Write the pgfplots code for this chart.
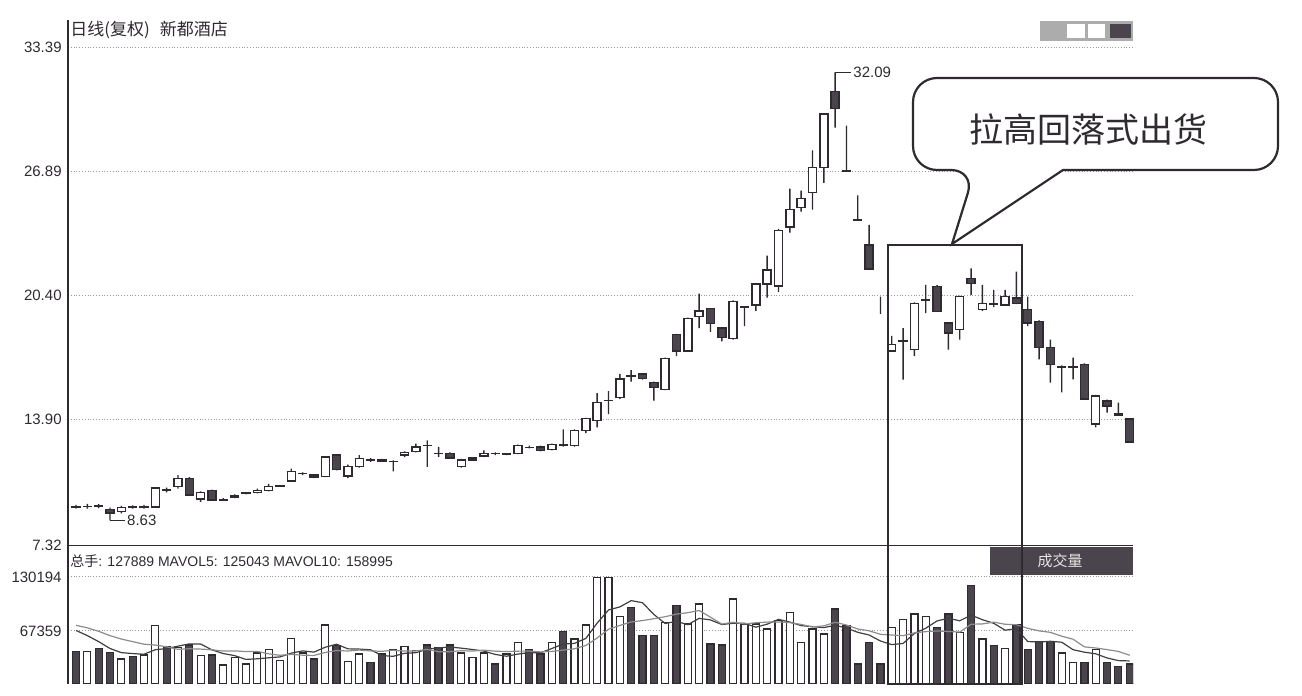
\documentclass[border=0pt]{standalone}
\usepackage{fontspec}
\setmainfont{Liberation Sans}
\newfontfamily\cjk{Noto Sans CJK SC}
\usepackage{pgfplots}
\usepackage{pgfplotstable}
\pgfplotsset{compat=1.18}
\definecolor{ink}{HTML}{2E2A30}
\definecolor{bodyd}{HTML}{4A454D}
\definecolor{gridc}{HTML}{9A9A9A}

\pgfplotstableread{
i o h l c
0 9.33 9.45 9.25 9.36
1 9.36 9.50 9.25 9.35
2 9.36 9.48 9.28 9.38
3 9.20 9.30 8.63 9.02
4 9.10 9.40 9.00 9.30
5 9.30 9.42 9.25 9.34
6 9.32 9.45 9.25 9.34
7 9.33 10.32 9.30 10.32
8 10.20 10.35 10.10 10.25
9 10.40 11.00 10.30 10.84
10 10.84 10.90 9.95 9.97
11 9.75 10.15 9.60 10.10
12 10.20 10.25 9.65 9.71
13 9.71 9.80 9.65 9.72
14 9.85 10.00 9.80 9.95
15 10.05 10.12 10.00 10.06
16 10.10 10.30 10.05 10.20
17 10.20 10.55 10.15 10.40
18 10.44 10.48 10.40 10.45
19 10.70 11.35 10.65 11.18
20 11.09 11.15 11.00 11.10
21 11.00 11.05 10.85 10.90
22 10.92 12.00 10.90 11.96
23 12.05 12.10 11.25 11.30
24 10.95 11.55 10.85 11.45
25 11.45 12.05 11.40 11.87
26 11.79 11.90 11.70 11.80
27 11.80 11.85 11.70 11.72
28 11.72 11.78 11.20 11.73
29 12.05 12.25 11.95 12.20
30 12.25 12.65 12.20 12.48
31 12.55 12.82 11.44 12.57
32 12.13 12.48 11.96 12.14
33 12.13 12.20 11.85 11.90
34 11.44 11.85 11.40 11.79
35 11.80 11.95 11.75 11.90
36 12.00 12.30 11.95 12.15
37 12.13 12.20 12.05 12.14
38 12.10 12.15 12.05 12.11
39 12.13 12.60 12.10 12.56
40 12.45 12.55 12.40 12.46
41 12.48 12.55 12.25 12.30
42 12.35 12.65 12.30 12.60
43 12.55 13.40 12.50 12.60
44 12.56 13.40 12.50 13.34
45 13.34 14.00 13.20 13.97
46 13.86 15.30 13.50 14.80
47 14.90 15.40 14.20 14.92
48 15.06 16.30 15.00 16.04
49 16.20 16.50 15.90 16.21
50 16.30 16.35 16.00 16.05
51 15.85 15.90 14.90 15.60
52 15.50 17.15 15.45 17.10
53 18.36 18.40 17.24 17.50
54 17.50 19.25 17.45 19.20
55 19.30 20.50 18.70 19.60
56 19.72 19.75 18.50 18.95
57 18.70 18.75 18.00 18.20
58 18.15 20.15 18.10 20.10
59 19.80 19.85 18.80 19.82
60 19.90 21.05 19.60 21.00
61 21.00 22.50 20.30 21.75
62 20.90 23.90 20.60 23.80
63 24.00 26.00 23.70 24.90
64 25.00 25.90 24.80 25.50
65 25.80 28.00 24.90 27.10
66 27.10 29.95 26.30 29.90
67 31.10 32.09 29.20 30.20
68 26.95 29.30 26.90 26.90
69 24.40 25.65 24.35 24.35
70 23.05 24.10 21.75 21.80
71 19.50 20.35 19.45 19.50
72 17.50 18.30 17.45 17.84
73 18.00 18.70 16.00 18.05
74 17.58 20.05 17.23 20.00
75 20.15 20.96 19.49 20.20
76 20.87 20.95 19.55 19.58
77 18.97 19.00 17.58 18.45
78 18.62 20.40 18.10 20.35
79 21.31 21.83 20.44 21.05
80 19.66 20.96 19.60 20.00
81 19.95 20.70 19.80 20.00
82 19.92 20.70 19.90 20.35
83 20.27 21.66 19.95 20.00
84 19.66 20.35 18.80 18.97
85 19.06 19.10 17.06 17.67
86 17.67 18.10 15.85 16.80
87 16.66 16.75 15.33 16.70
88 16.70 17.15 16.02 16.66
89 16.80 16.85 14.95 14.98
90 13.68 15.20 13.50 15.15
91 14.89 14.95 14.28 14.63
92 14.20 14.80 14.10 14.15
93 13.94 13.95 12.70 12.73
}\price

\pgfplotstableread{
i v u m5 m10
0 43.3 0 68.0 74.0
1 43.3 1 62.0 71.0
2 47.2 0 55.0 67.0
3 42.6 0 47.0 62.0
4 34.8 1 42.2 58.0
5 37.5 0 41.1 55.0
6 39.4 1 40.3 52.0
7 73.5 1 45.6 51.0
8 49.5 0 46.9 49.0
9 48.4 1 49.7 46.0
10 51.1 0 52.4 46.7
11 38.6 1 52.2 46.3
12 39.4 0 45.4 45.5
13 27.8 1 41.1 44.0
14 36.8 1 38.7 44.2
15 29.0 1 34.3 43.4
16 41.8 1 35.0 43.6
17 45.6 1 36.2 40.8
18 32.8 1 37.2 39.1
19 58.8 1 41.6 40.2
20 41.8 1 44.2 39.2
21 34.8 0 42.8 38.9
22 74.3 1 48.5 42.4
23 50.3 0 52.0 44.6
24 31.6 1 46.6 44.1
25 40.6 1 46.3 45.2
26 30.9 0 45.5 44.2
27 40.6 0 38.8 43.7
28 45.6 1 37.9 44.9
29 49.1 1 41.4 44.0
30 44.4 1 42.1 44.2
31 51.1 0 46.2 45.9
32 48.4 0 47.7 43.3
33 51.1 0 48.8 43.3
34 41.8 1 47.4 44.4
35 36.8 1 45.8 44.0
36 41.8 1 44.0 45.1
37 29.0 0 40.1 43.9
38 40.6 1 38.0 43.4
39 54.2 1 40.5 43.9
40 45.6 0 42.2 44.0
41 40.6 0 42.0 43.0
42 54.2 1 47.0 43.6
43 66.5 0 52.2 45.1
44 58.0 1 53.0 46.7
45 74.3 1 58.7 50.5
46 130.0 1 76.6 59.3
47 130.0 1 91.8 69.4
48 84.5 1 95.4 73.8
49 94.9 0 102.7 77.9
50 61.9 0 100.3 79.5
51 61.9 0 86.6 81.6
52 77.5 1 76.1 84.0
53 96.8 0 78.6 87.0
54 75.5 1 74.7 88.7
55 98.8 1 82.1 91.2
56 52.2 0 80.2 83.4
57 51.1 0 74.9 75.5
58 104.6 1 76.4 77.5
59 75.5 1 76.4 75.6
60 75.5 1 71.8 76.9
61 69.7 1 75.3 77.7
62 79.4 1 80.9 77.9
63 89.1 1 77.8 77.1
64 54.2 1 73.6 75.0
65 69.7 1 72.4 72.1
66 63.9 1 71.3 73.3
67 92.9 0 74.0 77.5
68 73.5 0 70.8 74.3
69 29.0 0 65.8 69.7
70 54.2 0 62.7 67.6
71 29.0 0 55.7 63.5
72 71.7 1 51.5 62.7
73 80.5 1 52.9 61.9
74 87.1 1 64.5 65.2
75 84.5 1 70.6 66.6
76 71.7 0 79.1 67.4
77 87.1 0 82.2 66.8
78 65.8 1 79.2 66.1
79 120.1 0 85.8 75.2
80 58.0 1 80.5 75.6
81 50.3 0 76.3 77.7
82 47.2 1 68.3 75.2
83 74.3 0 70.0 74.6
84 45.6 0 55.1 70.5
85 54.9 0 54.5 67.5
86 54.9 0 55.4 65.8
87 41.8 1 54.3 61.3
88 30.9 1 45.6 57.8
89 30.9 0 42.7 48.9
90 45.6 1 40.8 47.6
91 30.9 0 36.0 45.7
92 26.3 0 32.9 43.6
93 29.0 0 32.5 39.1
}\vol

\pgfplotsset{
  priceax/.style={at={(34pt,75.25pt)}, anchor=south west, scale only axis,
    width=532.5pt, height=262.75pt, xmin=-0.706, xmax=93.29, ymin=7.32, ymax=34.83},
  volax/.style={at={(34pt,6pt)}, anchor=south west, scale only axis,
    width=532.5pt, height=69.25pt, xmin=-0.706, xmax=93.29, ymin=5.688, ymax=166.847},
  ticklab/.style={font=\fontsize{7.5pt}{8pt}\selectfont, inner sep=0pt, xshift=-3pt, text=ink},
}

\begin{document}
\begin{tikzpicture}
\path[use as bounding box] (0,0) rectangle (651pt,348pt);

% price frame, grid and ticks
\begin{axis}[priceax, axis lines*=left, axis line style={ink, line width=0.8pt},
  xtick=\empty, ytick={7.32,13.90,20.40,26.89,33.39},
  yticklabels={7.32,13.90,20.40,26.89,33.39},
  ymajorgrids, grid style={densely dotted, gridc, line width=0.5pt},
  major tick length=0pt, yticklabel style={ticklab}]
\end{axis}

% wicks
\begin{axis}[priceax, hide axis, ybar stacked, bar width=0.7pt]
\addplot[draw=none, fill=none] table[x=i, y=l] {\price};
\addplot[draw=none, fill=ink] table[x=i, y expr=\thisrow{h}-\thisrow{l}] {\price};
\end{axis}

% bodies
\begin{axis}[priceax, hide axis, ybar stacked, bar width=4pt, clip=false]
\addplot[draw=none, fill=none] table[x=i, y expr={min(\thisrow{o},\thisrow{c})}] {\price};
\addplot[draw=ink, fill=white, line width=0.7pt] table[x=i, y expr={max(\thisrow{c}-\thisrow{o},0)}] {\price};
\addplot[draw=ink, fill=bodyd, line width=0.7pt] table[x=i, y expr={max(\thisrow{o}-\thisrow{c},0)}] {\price};
\draw[ink, line width=0.5pt] (axis cs:67,32.09) -- (axis cs:68.4,32.09) node[right, inner sep=1pt, font=\fontsize{7.5pt}{8pt}\selectfont, text=ink]{32.09};
\draw[ink, line width=0.5pt] (axis cs:3,8.63) -- (axis cs:4.3,8.63) node[right, inner sep=1pt, font=\fontsize{7.5pt}{8pt}\selectfont, text=ink]{8.63};
\end{axis}

% volume
\begin{axis}[volax, axis y line*=left, axis x line=none, axis line style={ink, line width=0.8pt},
  xtick=\empty, ytick={67.359,130.194}, yticklabels={67359,130194},
  ymajorgrids, grid style={densely dotted, gridc, line width=0.5pt},
  major tick length=0pt, yticklabel style={ticklab}]
\addplot[ybar, bar width=3.5pt, bar shift=0pt, draw=ink, fill=white, line width=0.6pt] table[x=i, y expr=\thisrow{u}*\thisrow{v}] {\vol};
\addplot[ybar, bar width=3.5pt, bar shift=0pt, draw=ink, fill=bodyd, line width=0.6pt] table[x=i, y expr=(1-\thisrow{u})*\thisrow{v}] {\vol};
\addplot[sharp plot, mark=none, color=black!75, line width=0.6pt] table[x=i, y=m5] {\vol};
\addplot[sharp plot, mark=none, color=black!45, line width=0.6pt] table[x=i, y=m10] {\vol};
\end{axis}

% title and header texts
\node[anchor=west, inner sep=0pt, text=ink, font=\cjk\fontsize{8.5pt}{9pt}\selectfont] at (35pt,333pt) {日线(复权)\hspace{5pt}新都酒店};
\fill[gray!65] (520pt,327.5pt) rectangle (566.5pt,337.5pt);
\fill[white] (533.5pt,329pt) rectangle (542.5pt,336pt);
\fill[white] (544pt,329pt) rectangle (552.5pt,336pt);
\fill[bodyd] (555pt,329pt) rectangle (565.5pt,336pt);

\node[anchor=west, inner sep=0pt, text=ink, font=\fontsize{7pt}{8pt}\selectfont] at (35pt,67.5pt) {{\cjk 总手}: 127889 MAVOL5: 125043 MAVOL10: 158995};
\fill[bodyd] (495pt,60.5pt) rectangle (566.5pt,74.5pt);
\node[text=white!80!gray, font=\cjk\fontsize{7.5pt}{8pt}\selectfont] at (530pt,67.5pt) {成交量};

% annotation box and callout
\draw[ink, line width=1pt] (444pt,6pt) rectangle (511pt,225.5pt);
\draw[ink, line width=1.1pt, fill=white] (531.5pt,263pt) [rounded corners=12pt] -- (639pt,263pt) -- (639pt,309pt) -- (456.5pt,309pt) -- (456.5pt,263pt) -- (487.5pt,263pt) [sharp corners] -- (476pt,226pt) -- cycle;
\node[text=ink, font=\cjk\fontsize{17pt}{18pt}\selectfont] at (544pt,283pt) {拉高回落式出货};
\end{tikzpicture}
\end{document}
